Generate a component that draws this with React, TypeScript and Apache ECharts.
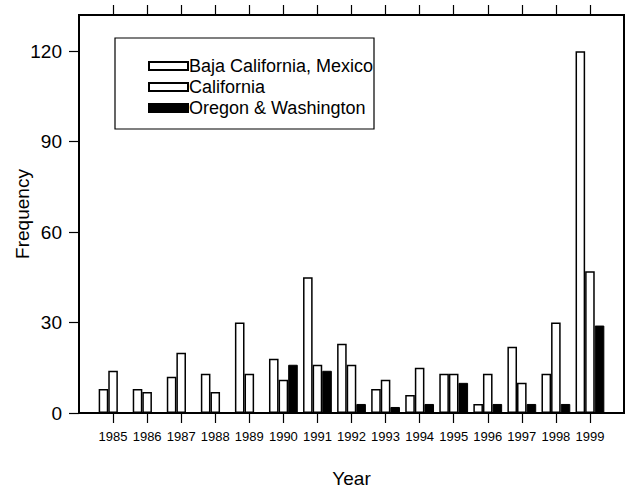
import React, { useEffect, useRef } from "react";
import * as echarts from "echarts";

const years = ["1985", "1986", "1987", "1988", "1989", "1990", "1991", "1992", "1993", "1994", "1995", "1996", "1997", "1998", "1999"];
const baja = [8, 8, 12, 13, 30, 18, 45, 23, 8, 6, 13, 3, 22, 13, 120];
const california = [14, 7, 20, 7, 13, 11, 16, 16, 11, 15, 13, 13, 10, 30, 47];
const oregonWashington = [0, 0, 0, 0, 0, 16, 14, 3, 2, 3, 10, 3, 3, 3, 29];
const yTicks = [0, 30, 60, 90, 120];

const FONT = "Liberation Sans, Arial, Helvetica, sans-serif";

export default function App() {
  const ref = useRef<HTMLDivElement>(null);
  useEffect(() => {
    if (!ref.current) return;
    const chart = echarts.init(ref.current, null, { renderer: "svg" });
    const cats = ["", ...years, ""];
    const pad = (a: number[]) => ["-", ...a, "-"];
    const showTick = (_i: number, v: string) => v !== "";
    const barBase = {
      type: "bar" as const,
      barWidth: 9.6,
      barGap: "0%",
      barCategoryGap: "0%",
    };
    chart.setOption({
      animation: false,
      backgroundColor: "#ffffff",
      grid: {
        left: 79,
        right: 2,
        top: 15,
        bottom: 75,
        show: true,
        borderColor: "#000",
        borderWidth: 2,
        backgroundColor: "transparent",
        containLabel: false,
        outerBoundsMode: "none",
      },
      legend: {
        orient: "vertical",
        left: 148,
        top: 57,
        padding: 0,
        icon: "rect",
        itemWidth: 39,
        itemHeight: 8,
        itemGap: 3,
        textStyle: { fontFamily: FONT, fontSize: 18, color: "#000", padding: [0, 0, 0, -4] },
        data: ["Baja California, Mexico", "California", "Oregon & Washington"],
      },
      graphic: [
        {
          type: "rect",
          shape: { x: 115, y: 38, width: 259, height: 91 },
          style: { fill: "none", stroke: "#000", lineWidth: 1.2 },
          z: 10,
        },
      ],
      xAxis: [
        {
          type: "category",
          data: cats,
          boundaryGap: false,
          position: "bottom",
          name: "Year",
          nameLocation: "middle",
          nameGap: 56,
          nameMoveOverlap: false,
          nameTextStyle: { fontFamily: FONT, fontSize: 19, color: "#000" },
          axisLine: { lineStyle: { color: "#000", width: 2 } },
          axisTick: { show: true, inside: false, length: 10, interval: showTick, lineStyle: { color: "#000", width: 1.2 } },
          axisLabel: { interval: showTick, margin: 17, fontFamily: FONT, fontSize: 13, color: "#000" },
          splitLine: { show: false },
        },
        {
          type: "category",
          data: cats,
          boundaryGap: false,
          position: "top",
          axisLine: { lineStyle: { color: "#000", width: 2 } },
          axisTick: { show: true, inside: false, length: 10, interval: showTick, lineStyle: { color: "#000", width: 1.2 } },
          axisLabel: { show: false },
          splitLine: { show: false },
        },
      ],
      yAxis: {
        type: "value",
        min: 0,
        max: 132,
        interval: 30,
        name: "Frequency",
        nameLocation: "middle",
        nameGap: 47,
        nameMoveOverlap: false,
        nameTextStyle: { fontFamily: FONT, fontSize: 19, color: "#000" },
        axisLine: { show: true, lineStyle: { color: "#000", width: 2 } },
        axisTick: { show: true, inside: false, length: 10, customValues: yTicks, lineStyle: { color: "#000", width: 1.2 } },
        axisLabel: { customValues: yTicks, margin: 17, fontFamily: FONT, fontSize: 19, color: "#000" },
        splitLine: { show: false },
      },
      series: [
        {
          ...barBase,
          name: "Baja California, Mexico",
          data: pad(baja),
          itemStyle: { color: "#fff", borderColor: "#000", borderWidth: 1.5 },
        },
        {
          ...barBase,
          name: "California",
          data: pad(california),
          itemStyle: { color: "#fff", borderColor: "#000", borderWidth: 1.5 },
        },
        {
          ...barBase,
          name: "Oregon & Washington",
          data: pad(oregonWashington),
          itemStyle: { color: "#000", borderColor: "#000", borderWidth: 1 },
        },
      ],
    });
    return () => chart.dispose();
  }, []);
  return <div ref={ref} style={{ width: 626, height: 488, position: "absolute", left: 0, top: 0 }} />;
}
